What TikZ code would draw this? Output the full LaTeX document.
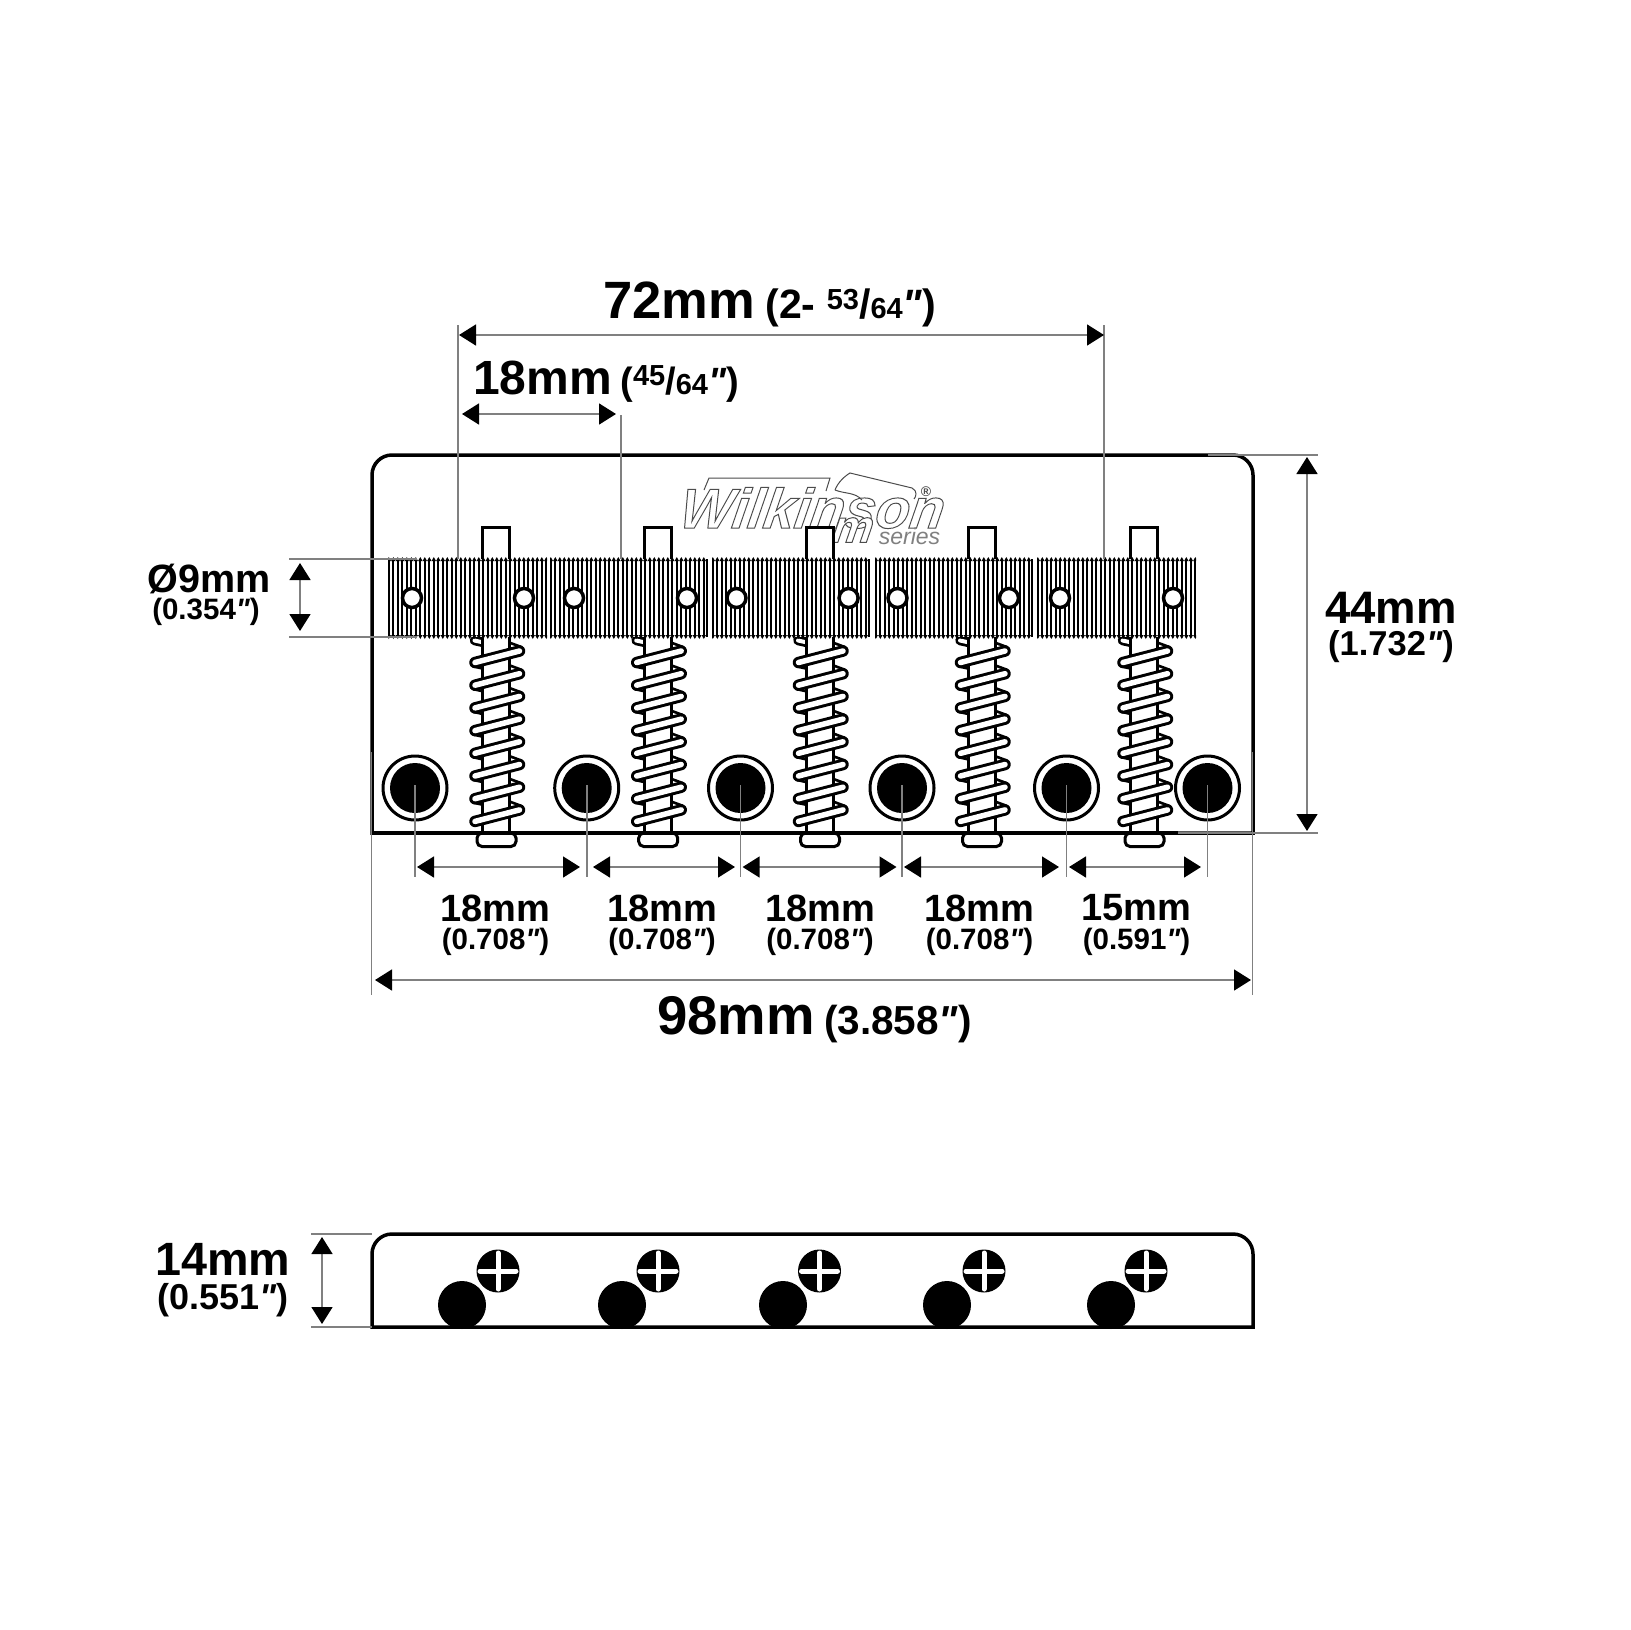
\documentclass[tikz,border=0pt]{standalone}
\usepackage{fontspec}
\usetikzlibrary{positioning,arrows.meta}
\setmainfont{Liberation Sans}
\newfontfamily\dqfam{Liberation Sans}
\definecolor{linegray}{HTML}{808080}
\newcommand{\fs}[1]{\fontsize{#1}{#1}\selectfont}
\newcommand{\dq}{{\dqfam\itshape"}}
\newcommand{\outlined}[1]{\special{pdf:code q 2 Tr 1 1 1 rg 0.3 0.3 0.3 RG 1 w}#1\special{pdf:code Q}}
\tikzset{
  plate line/.style={draw=black,line width=3.5pt},
  ext line/.style={draw=linegray,line width=1.6pt},
  dim line/.style={draw=linegray,line width=1.6pt,{Triangle[length=17pt,width=21pt,black]}-{Triangle[length=17pt,width=21pt,black]}},
  dim big/.style={font=\bfseries\fs{#1},inner sep=0pt,anchor=center},
  dim small/.style={font=\bfseries\fs{#1},inner sep=0pt},
  post line/.style={draw=black,fill=white,line width=3pt},
}
\begin{document}
\begin{tikzpicture}[x=1pt,y=-1pt]
\useasboundingbox[fill=white] (0,0) rectangle (1630,1630);

% top view plate
\draw[plate line] (372,833) [rounded corners=20pt] -- (372,455) -- (1253,455) [sharp corners] -- (1253,833) -- cycle;

% logo
\node[inner sep=0pt,xslant=0.15,transform shape] (logoname) at (813,508) {\bfseries\itshape\fs{56}\outlined{Wilkinson}};
\node[inner sep=0pt,xslant=0.15,transform shape] (logom) at (853,530) {\bfseries\itshape\fs{46}\outlined{m}};
\node[inner sep=0pt,text=gray] (logoseries) at (909.5,536) {\itshape\fs{23}series};
\node[inner sep=0pt,text=black!70] (logoreg) at (926,492) {\bfseries\fs{14}®};
\draw[black!70,line width=1pt] (704,490) -- (709,478) -- (830,478) -- (826,491);
\draw[black!70,line width=1pt] (835,490) .. controls (838,482) and (845,476) .. (850,473) -- (912,488) .. controls (918,491) and (916,497) .. (914,499);
\draw[black!70,line width=1pt] (835,490) .. controls (845,494) and (855,492) .. (862,500);

% posts and springs
\foreach \cx in {496,657.7,819.5,981.5,1144} {
  \begin{scope}[shift={(\cx,0)}]
    \foreach \k in {0,...,7} {
      \pgfmathsetmacro{\yl}{662.5+22.7*\k}
      \pgfmathsetmacro{\yr}{651+22.7*\k}
      \draw[line width=9.5pt,line cap=round] (10,{\yr-6}) -- (23.5,{\yr-1});
      \draw[white,line width=4pt,line cap=round] (10,{\yr-6}) -- (23.5,{\yr-1});
      \draw[line width=9.5pt,line cap=round] (-21.5,{\yl-22}) -- (-8,{\yl-19});
      \draw[white,line width=4pt,line cap=round] (-21.5,{\yl-22}) -- (-8,{\yl-19});
    }
    \draw[post line] (-13.5,833) -- (-13.5,527) -- (13.5,527) -- (13.5,833);
    \foreach \k in {0,...,7} {
      \pgfmathsetmacro{\yl}{662.5+22.7*\k}
      \pgfmathsetmacro{\yr}{651+22.7*\k}
      \draw[line width=11.5pt,line cap=round] (-21,\yl) -- (23.5,\yr);
      \draw[white,line width=5.5pt,line cap=round] (-21,\yl) -- (23.5,\yr);
    }
    \draw[post line,rounded corners=5pt] (-19,833) rectangle (20,846.5);
  \end{scope}
}
\draw[plate line] (372,833) -- (1178,833);

% threaded saddles
\foreach \bx/\bw in {388/159,550/158,712/158,875/158,1037/159} {
  \begin{scope}[shift={(\bx,0)}]
    \clip (0,550) rectangle (\bw,650);
    \fill[white] (0,559) rectangle (\bw,637);
    \foreach \tx in {0.8,5.3,...,\bw} {
      \draw[line width=1.8pt] (\tx,559) -- (\tx,637);
      \fill ({\tx-2.2},561) -- (\tx,557) -- ({\tx+2.2},561) -- cycle;
      \fill ({\tx-2.2},635) -- (\tx,639) -- ({\tx+2.2},635) -- cycle;
    }
    \draw[line width=1.6pt] (\bw-0.8,559) -- (\bw-0.8,637);
  \end{scope}
}
\foreach \hx in {412,524,574,687,736.5,848.6,897.5,1009,1060,1173}
  \draw[fill=white,line width=3.5pt] (\hx,598) circle (9.5);

% mounting holes
\foreach \fx in {415,586.7,740.5,902,1066.5,1207.5} {
  \draw[line width=3pt] (\fx,788) circle (32);
  \fill (\fx,788) circle (25);
}

% side view
\foreach \cx/\bx in {498/462,658/622,819.5/783,984/947,1146/1111} {
  \fill (\bx,1305) circle (24);
  \fill (\cx,1271) circle (21.5);
  \draw[white,line width=5pt,line cap=round] (\cx-18,1271) -- (\cx+18,1271);
  \draw[white,line width=5pt,line cap=round] (\cx,1253) -- (\cx,1289);
}
\draw[plate line] (372,1327) [rounded corners=20pt] -- (372,1234) -- (1253,1234) [sharp corners] -- (1253,1327) -- cycle;

% extension lines
\foreach \ea/\eb/\ec/\ed in {458/325/458/559,1104/325/1104/559,621/415/621/559,
    289/559/417/559,289/637/417/637,371.5/752/371.5/995,1252.5/752/1252.5/995,
    1208/455/1318/455,1178/833/1318/833,311/1234/372/1234,311/1327/372/1327,
    415/785/415/877,586.7/785/586.7/877,740.5/785/740.5/877,
    902/785/902/877,1066.5/785/1066.5/877,1207.5/785/1207.5/877} {
  \coordinate (exta) at (\ea,\eb);
  \coordinate (extb) at (\ec,\ed);
  \draw[ext line] (exta) -- (extb);
}

% dimension arrows
\foreach \da/\db/\dc/\dd in {459/335/1104/335,462/414/616/414,300/563/300/631,
    417/867/580/867,593/867/735/867,742.6/867/896.5/867,904/867/1059/867,
    1069/867/1201/867,375/980/1251/980,1307/457/1307/831,322/1237/322/1324} {
  \coordinate (dima) at (\da,\db);
  \coordinate (dimb) at (\dc,\dd);
  \draw[dim line] (dima) -- (dimb);
}

% labels
\node[dim big=52.5,anchor=base west] (len72) at (603,318) {72mm};
\node[dim small=41,anchor=base west] (len72in) [right=10pt of len72.base east,anchor=base west] {(2- \raisebox{9pt}{\fs{29}53}/\fs{29}64\fs{41}\dq)};
\node[dim big=48,anchor=base west] (len18) at (473,394) {18mm};
\node[dim small=38,anchor=base west] (len18in) [right=8pt of len18.base east,anchor=base west] {(\raisebox{9pt}{\fs{29}45}/\fs{29}64\fs{38}\dq)};
\node[dim big=39.5] (dia9) at (209,579) {Ø9mm};
\node[dim small=29.5] (dia9in) [below=33pt of dia9.center,anchor=center,xshift=-3pt] {(0.354\dq)};
\node[dim big=45.5] (high44) at (1391,608) {44mm};
\node[dim small=34.5] (high44in) [below=38.5pt of high44.center,anchor=center] {(1.732\dq)};
\node[dim big=46.7] (high14) at (223,1259) {14mm};
\node[dim small=36] (high14in) [below=41pt of high14.center,anchor=center] {(0.551\dq)};
\foreach \i/\lx/\mm/\inch in {a/495.5/18mm/0.708,b/662/18mm/0.708,c/820/18mm/0.708,d/979.5/18mm/0.708,e/1136.5/15mm/0.591} {
  \node[dim big=38] (gap\i) at (\lx,908) {\mm};
  \node[dim small=29.5] (gap\i in) [below=33.5pt of gap\i.center,anchor=center] {(\inch\dq)};
}
\node[dim big=54.5,anchor=base west] (wide98) at (657,1034) {98mm};
\node[dim small=40.5,anchor=base west] (wide98in) [right=9pt of wide98.base east,anchor=base west] {(3.858\dq)};
\end{tikzpicture}
\end{document}
